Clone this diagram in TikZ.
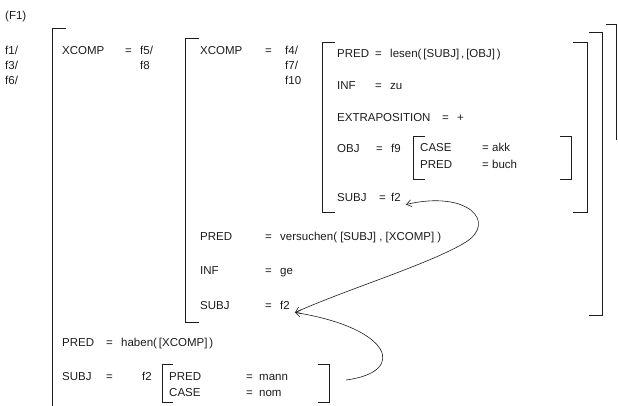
\documentclass[tikz,border=0pt]{standalone}
\usepackage{fontspec}
\setmainfont{Liberation Sans}
\usetikzlibrary{arrows.meta}
\definecolor{ink}{HTML}{1C1C1C}
\begin{document}
\begin{tikzpicture}[x=1pt,y=-1pt,
  lbl/.style={anchor=base west,inner sep=0pt,font=\fontsize{11.5}{13}\selectfont,text=ink},
  brk/.style={draw=ink,line width=0.9pt},
  link/.style={draw=ink,line width=0.6pt},
  barb/.tip={Straight Barb[length=5pt,width=7pt]}]
\useasboundingbox (0,0) rectangle (618,406);

% f-structure label and indices
\node[lbl] (title) at (5,20) {(F1)};
\node[lbl] (i1) at (5,55) {f1/};
\node[lbl] (i3) at (5,70) {f3/};
\node[lbl] (i6) at (5,85) {f6/};

% outer brackets
\draw[brk] (66,28) -- (52,28) -- (52,406);
\draw[brk] (606,24) -- (616,24) -- (616,140);

% outer level
\node[lbl] (xc1) at (62,55) {XCOMP};
\node[lbl] (eq1) at (125,55) {=};
\node[lbl] (f5) at (140,55) {f5/};
\node[lbl] (f8) at (140,70) {f8};

% second level brackets
\draw[brk] (199,38) -- (185,38) -- (185,322) -- (199,322);
\draw[brk] (589,32) -- (602,32) -- (602,315) -- (589,315);

\node[lbl] (xc2) at (200,55) {XCOMP};
\node[lbl] (eq2) at (265,55) {=};
\node[lbl] (f4) at (285,55) {f4/};
\node[lbl] (f7) at (285,70) {f7/};
\node[lbl] (f10) at (285,85) {f10};

% third level brackets
\draw[brk] (335,42) -- (322,42) -- (322,212) -- (335,212);
\draw[brk] (573,42) -- (587,42) -- (587,212) -- (573,212);

\node[lbl] (pr3) at (337,58) {PRED};
\node[lbl] (pr3e) at (375,58) {=};
\node[lbl] (pr3v) at (390,58) {lesen(\,[SUBJ]\,,\,[OBJ]\,)};
\node[lbl] (in3) at (337,90) {INF};
\node[lbl] (in3e) at (375,90) {=};
\node[lbl] (in3v) at (390,90) {zu};
\node[lbl] (ex3) at (337,122) {EXTRAPOSITION};
\node[lbl] (ex3e) at (442,122) {=};
\node[lbl] (ex3v) at (457,122) {+};
\node[lbl] (ob3) at (337,153) {OBJ};
\node[lbl] (ob3e) at (376,153) {=};
\node[lbl] (ob3v) at (391,153) {f9};

% OBJ value
\draw[brk] (425,136) -- (413,136) -- (413,179) -- (425,179);
\draw[brk] (560,136) -- (571,136) -- (571,179) -- (560,179);
\node[lbl] (ca9) at (420,152) {CASE};
\node[lbl] (ca9e) at (482,152) {=};
\node[lbl] (ca9v) at (492,152) {akk};
\node[lbl] (pr9) at (420,169) {PRED};
\node[lbl] (pr9e) at (482,169) {=};
\node[lbl] (pr9v) at (492,169) {buch};

\node[lbl] (su3) at (337,201) {SUBJ};
\node[lbl] (su3e) at (379,201) {=};
\node[lbl] (su3v) at (391,201) {f2};

% second level attributes
\node[lbl] (pr2) at (200,240) {PRED};
\node[lbl] (pr2e) at (265,240) {=};
\node[lbl] (pr2v) at (280,240) {versuchen( [SUBJ] , [XCOMP] )};
\node[lbl] (in2) at (200,274) {INF};
\node[lbl] (in2e) at (265,274) {=};
\node[lbl] (in2v) at (280,274) {ge};
\node[lbl] (su2) at (200,309) {SUBJ};
\node[lbl] (su2e) at (265,309) {=};
\node[lbl] (su2v) at (280,309) {f2};

% outer attributes
\node[lbl] (pr1) at (62,346) {PRED};
\node[lbl] (pr1e) at (106,346) {=};
\node[lbl] (pr1v) at (121,346) {haben(\,[XCOMP]\,)};
\node[lbl] (su1) at (62,380) {SUBJ};
\node[lbl] (su1e) at (106,380) {=};
\node[lbl] (su1v) at (142,380) {f2};

% SUBJ value
\draw[brk] (173,364) -- (162,364) -- (162,402) -- (173,402);
\draw[brk] (318,364) -- (329,364) -- (329,402) -- (318,402);
\node[lbl] (pr0) at (169,380) {PRED};
\node[lbl] (pr0e) at (246,380) {=};
\node[lbl] (pr0v) at (259,380) {mann};
\node[lbl] (ca0) at (169,396) {CASE};
\node[lbl] (ca0e) at (246,396) {=};
\node[lbl] (ca0v) at (259,396) {nom};

% identity links between the f2 values
\coordinate (tipU) at ([xshift=5pt,yshift=-3.5pt]su3v.base east);
\coordinate (tipL) at ([xshift=5pt,yshift=-3.5pt]su2v.base east);
\coordinate (bstart) at (346,380);
\draw[link,barb-barb] (tipU) .. controls (468,190) and (497,222) .. (466,242)
  .. controls (430,264) and (350,288) .. (tipL);
\draw[link,-barb] (bstart) .. controls (408,372) and (392,328) .. (tipL);
\end{tikzpicture}
\end{document}
